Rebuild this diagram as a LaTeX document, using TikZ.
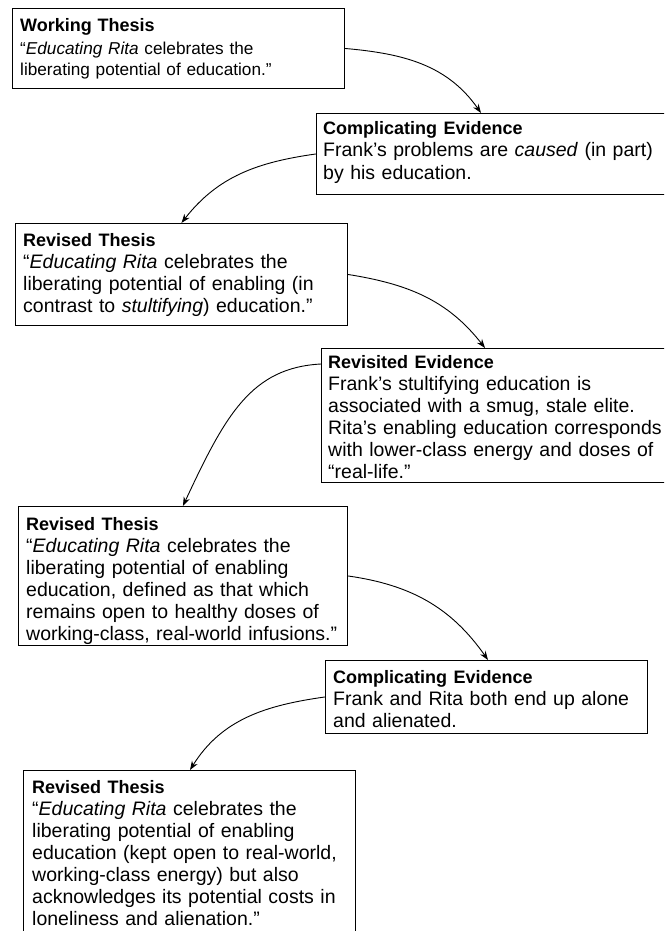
\documentclass[tikz,border=0pt]{standalone}
\usepackage{fontspec}
\setmainfont{Liberation Sans}
\usetikzlibrary{arrows.meta,calc}
\newcommand\bodyfont{\fontsize{19.5}{22}\selectfont}
\newcommand\smallbodyfont{\fontsize{17.2}{21.5}\selectfont}
\newcommand\boxtitle[1]{{\fontsize{18}{22}\selectfont\bfseries #1}}
\begin{document}
\begin{tikzpicture}[x=1pt,y=-1pt,
  frame/.style={draw, line width=0.9pt, inner sep=0pt, anchor=north west},
  txt/.style={anchor=base west, inner sep=0pt, text width=345pt, align=left, font=\bodyfont},
  arr/.style={-{Stealth[length=9pt,width=6.5pt]}, line width=0.9pt}]
\clip (0,0) rectangle (664,931);
\fill[white] (0,0) rectangle (664,931);
% boxes
\node[frame, minimum width=332pt, minimum height=80pt]  (b1) at (12,8) {};
\node[frame, minimum width=360pt, minimum height=81pt]  (b2) at (316,113) {};
\node[frame, minimum width=332pt, minimum height=102pt] (b3) at (15,223) {};
\node[frame, minimum width=360pt, minimum height=134pt] (b4) at (321,348) {};
\node[frame, minimum width=329pt, minimum height=139pt] (b5) at (18,506) {};
\node[frame, minimum width=322pt, minimum height=73pt]  (b6) at (325,660) {};
\node[frame, minimum width=332pt, minimum height=180pt] (b7) at (23,770) {};
% texts
\node[txt, font=\smallbodyfont] (t1) at ($(b1.north west)+(8,24)$) {\boxtitle{Working Thesis}\\[1pt]
“\textit{Educating Rita} celebrates the\\
liberating potential of education.”};
\node[txt] (t2) at ($(b2.north west)+(7,22)$) {\boxtitle{Complicating Evidence}\\
Frank’s problems are \textit{caused} (in part)\\
by his education.};
\node[txt] (t3) at ($(b3.north west)+(8,23)$) {\boxtitle{Revised Thesis}\\
“\textit{Educating Rita} celebrates the\\
liberating potential of enabling (in\\
contrast to \textit{stultifying}) education.”};
\node[txt] (t4) at ($(b4.north west)+(7,20)$) {\boxtitle{Revisited Evidence}\\
Frank’s stultifying education is\\
associated with a smug, stale elite.\\
Rita’s enabling education corresponds\\
with lower-class energy and doses of\\
“real-life.”};
\node[txt] (t5) at ($(b5.north west)+(8,24)$) {\boxtitle{Revised Thesis}\\
“\textit{Educating Rita} celebrates the\\
liberating potential of enabling\\
education, defined as that which\\
remains open to healthy doses of\\
working-class, real-world infusions.”};
\node[txt] (t6) at ($(b6.north west)+(8,23)$) {\boxtitle{Complicating Evidence}\\
Frank and Rita both end up alone\\
and alienated.};
\node[txt] (t7) at ($(b7.north west)+(9,23)$) {\boxtitle{Revised Thesis}\\
“\textit{Educating Rita} celebrates the\\
liberating potential of enabling\\
education (kept open to real-world,\\
working-class energy) but also\\
acknowledges its potential costs in\\
loneliness and alienation.”};
% connectors
\draw[arr] (b1.east) to[out=-5,in=125] ([xshift=165pt]b2.north west);
\draw[arr] (b2.west) to[out=188,in=52] (b3.north);
\draw[arr] (b3.east) to[out=-9,in=128] ([xshift=164pt]b4.north west);
\draw[arr] ([yshift=-16pt]b4.north west) .. controls +(177:70) and +(-65:100) .. (b5.north);
\draw[arr] (b5.east) to[out=-8,in=125] ([xshift=163pt]b6.north west);
\draw[arr] (b6.west) to[out=188,in=58] ([xshift=167pt]b7.north west);
\end{tikzpicture}
\end{document}
